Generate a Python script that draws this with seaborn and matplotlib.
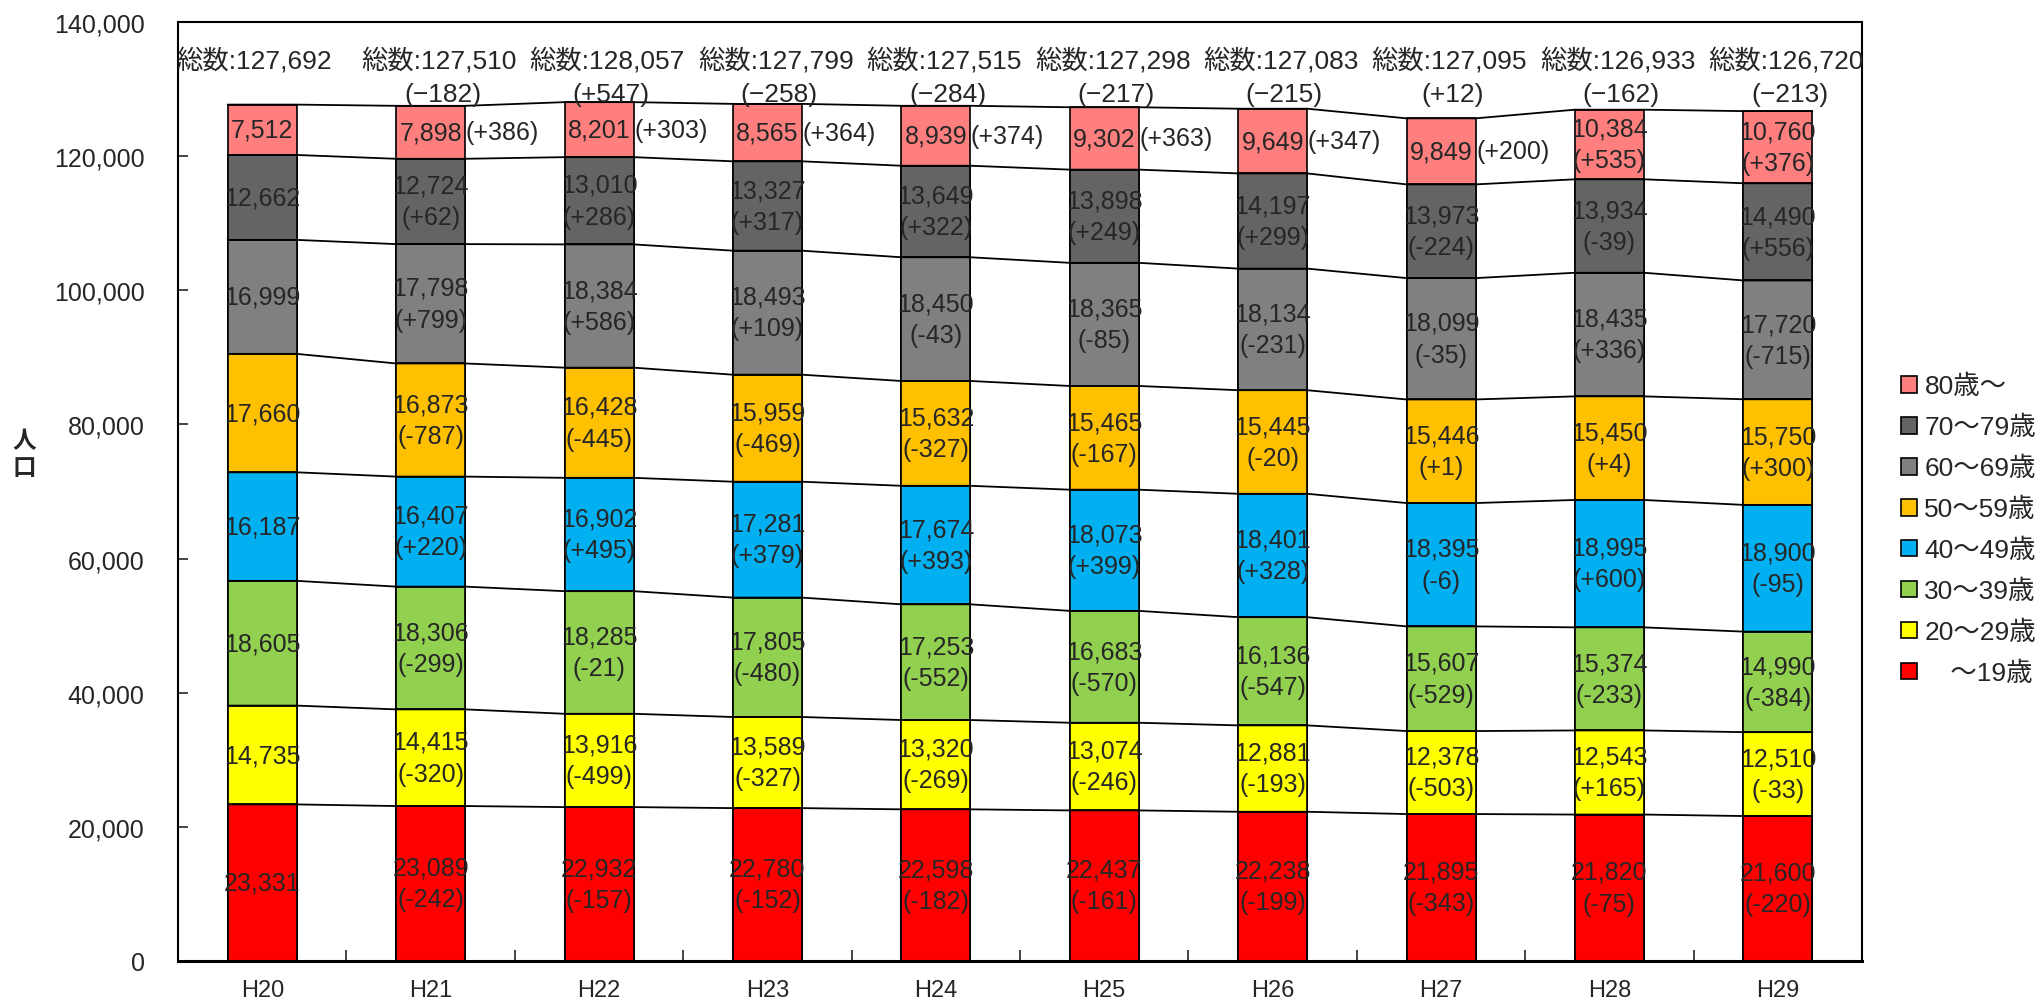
import matplotlib
matplotlib.use('Agg')
import matplotlib.pyplot as plt
import seaborn as sns
import numpy as np
import pandas as pd
from matplotlib.patches import Patch
from matplotlib.ticker import FuncFormatter, FixedLocator

# 年度
years = ['H20', 'H21', 'H22', 'H23', 'H24', 'H25', 'H26', 'H27', 'H28', 'H29']

# 年齢階級別人口（下から順）
age_u19 = [23331, 23089, 22932, 22780, 22598, 22437, 22238, 21895, 21820, 21600]
age_20s = [14735, 14415, 13916, 13589, 13320, 13074, 12881, 12378, 12543, 12510]
age_30s = [18605, 18306, 18285, 17805, 17253, 16683, 16136, 15607, 15374, 14990]
age_40s = [16187, 16407, 16902, 17281, 17674, 18073, 18401, 18395, 18995, 18900]
age_50s = [17660, 16873, 16428, 15959, 15632, 15465, 15445, 15446, 15450, 15750]
age_60s = [16999, 17798, 18384, 18493, 18450, 18365, 18134, 18099, 18435, 17720]
age_70s = [12662, 12724, 13010, 13327, 13649, 13898, 14197, 13973, 13934, 14490]
age_80p = [7512, 7898, 8201, 8565, 8939, 9302, 9649, 9849, 10384, 10760]

# 前年比（グラフ上の表記）
diff_u19 = [None, -242, -157, -152, -182, -161, -199, -343, -75, -220]
diff_20s = [None, -320, -499, -327, -269, -246, -193, -503, 165, -33]
diff_30s = [None, -299, -21, -480, -552, -570, -547, -529, -233, -384]
diff_40s = [None, 220, 495, 379, 393, 399, 328, -6, 600, -95]
diff_50s = [None, -787, -445, -469, -327, -167, -20, 1, 4, 300]
diff_60s = [None, 799, 586, 109, -43, -85, -231, -35, 336, -715]
diff_70s = [None, 62, 286, 317, 322, 249, 299, -224, -39, 556]
diff_80p = [None, 386, 303, 364, 374, 363, 347, 200, 535, 376]

# 総数
totals = [127692, 127510, 128057, 127799, 127515, 127298, 127083, 127095, 126933, 126720]
total_diff = [None, -182, 547, -258, -284, -217, -215, 12, -162, -213]

labels = ['　～19歳', '20～29歳', '30～39歳', '40～49歳', '50～59歳', '60～69歳', '70～79歳', '80歳～']
colors = ['#FF0000', '#FFFF00', '#92D050', '#00B0F0', '#FFC000', '#808080', '#646464', '#FF7F7F']
groups = [age_u19, age_20s, age_30s, age_40s, age_50s, age_60s, age_70s, age_80p]
diffs = [diff_u19, diff_20s, diff_30s, diff_40s, diff_50s, diff_60s, diff_70s, diff_80p]

sns.set_style('white')
plt.rcParams['font.family'] = ['Liberation Sans', 'Noto Sans CJK JP', 'DejaVu Sans']

fig = plt.figure(figsize=(20.35, 10.03), dpi=100)
ax = fig.add_axes([0.0875, 0.041, 0.8275, 0.936])

bar_w = 0.41
cum = np.cumsum(np.array(groups), axis=0)

# 積み上げ棒（上の累積から順に重ねて描く）
for k in range(len(groups) - 1, -1, -1):
    df = pd.DataFrame({'year': years, 'value': cum[k]})
    sns.barplot(data=df, x='year', y='value', color=colors[k], width=bar_w,
                edgecolor='black', linewidth=1.2, saturation=1, ax=ax, zorder=2)

# 区分線
xs = np.arange(len(years))
for k in range(len(groups)):
    px, py = [], []
    for i in xs:
        px += [i - bar_w / 2, i + bar_w / 2]
        py += [cum[k][i], cum[k][i]]
    ax.plot(px, py, color='black', lw=1.3, zorder=3)

# 値ラベル
lab_fs = 18
for k in range(len(groups)):
    for i in xs:
        val = groups[k][i]
        d = diffs[k][i]
        yc = cum[k][i] - val / 2
        if d is None:
            ax.text(i, yc, f'{val:,}', ha='center', va='center', fontsize=lab_fs, zorder=4)
        elif k == 7 and i <= 7:
            ax.text(i, yc, f'{val:,}', ha='center', va='center', fontsize=lab_fs, zorder=4)
            ax.text(i + bar_w / 2 + 0.003, yc, f'({d:+d})', ha='left', va='center',
                    fontsize=lab_fs, zorder=4)
        else:
            ax.text(i, yc, f'{val:,}\n({d:+d})', ha='center', va='center',
                    fontsize=lab_fs, linespacing=1.4, zorder=4)

# 総数ラベル
for i in xs:
    xoff = -0.05 if i == 0 else 0.05
    ax.text(i + xoff, 134400, f'総数:{totals[i]:,}', ha='center', va='center', fontsize=19, zorder=4)
    if total_diff[i] is not None:
        s = f'({total_diff[i]:+d})'.replace('-', '−')
        ax.text(i + 0.07, 129300, s, ha='center', va='center', fontsize=19, zorder=4)

ax.set_xlim(-0.5, len(years) - 0.5)
ax.set_ylim(0, 140000)
ax.set_yticks(np.arange(0, 140001, 20000))
ax.yaxis.set_major_formatter(FuncFormatter(lambda v, p: f'{int(v):,}'))
ax.tick_params(axis='y', direction='in', length=7, width=1.2, pad=24, labelsize=18, left=True)
ax.tick_params(axis='x', which='major', length=0, pad=13, labelsize=17)
ax.xaxis.set_minor_locator(FixedLocator(np.arange(-0.5, len(years), 1.0)))
ax.tick_params(axis='x', which='minor', direction='in', length=8, width=1.2, bottom=True)
ax.set_xlabel('')
ax.set_ylabel('')
for sp in ax.spines.values():
    sp.set_visible(True)
    sp.set_color('black')
    sp.set_linewidth(1.5)
ax.spines['bottom'].set_linewidth(2.2)

fig.text(0.012, 0.546, '人\n口', ha='center', va='center', fontsize=17,
         fontweight='bold', linespacing=1.2)

handles = [Patch(facecolor=colors[k], edgecolor='black', linewidth=1.2) for k in range(7, -1, -1)]
fig.legend(handles, labels[::-1], loc='upper left', bbox_to_anchor=(0.934, 0.626),
           frameon=False, fontsize=19, handlelength=0.6, handleheight=0.6,
           handletextpad=0.3, labelspacing=0.63, borderpad=0, borderaxespad=0)

fig.savefig('out.png', dpi=100)
